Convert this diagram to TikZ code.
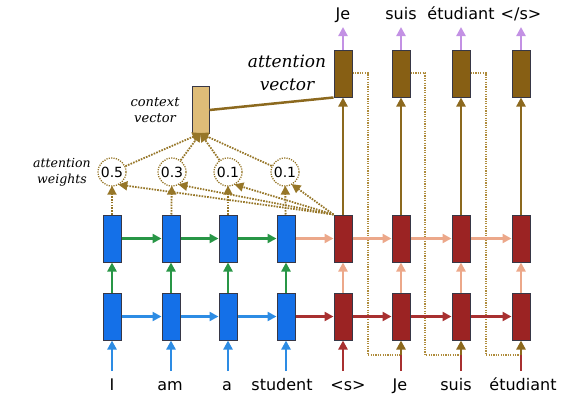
\documentclass[tikz,border=0pt]{standalone}
\usepackage{fontspec}
\setmainfont{DejaVu Sans}
\newfontfamily\labfont{DejaVu Serif}
\usetikzlibrary{arrows.meta}
\definecolor{encbox}{RGB}{20,112,232}
\definecolor{decbox}{RGB}{155,35,35}
\definecolor{attbox}{RGB}{135,95,20}
\definecolor{ctxbox}{RGB}{222,188,120}
\definecolor{bordc}{RGB}{55,55,70}
\definecolor{greenarr}{RGB}{40,150,70}
\definecolor{bluearr}{RGB}{45,140,228}
\definecolor{salmon}{RGB}{236,168,138}
\definecolor{redarr}{RGB}{168,48,48}
\definecolor{purp}{RGB}{195,145,228}
\definecolor{brownl}{RGB}{140,105,30}
\definecolor{dotc}{RGB}{150,118,40}
\definecolor{feedc}{RGB}{175,140,60}
\tikzset{
  cell/.style={draw=bordc, line width=1pt, minimum width=18pt, minimum height=47pt, inner sep=0pt},
  enc/.style={cell, fill=encbox},
  dec/.style={cell, fill=decbox},
  att/.style={cell, fill=attbox},
  ctxs/.style={cell, fill=ctxbox, minimum width=17pt},
  arr/.style={line width=2.5pt, -{Triangle[length=9pt,width=9pt]}},
  dots/.style={dotc, line width=1.8pt, dash pattern=on 1.6pt off 1.2pt},
  feed/.style={feedc, line width=1.2pt, dash pattern=on 1.2pt off 1.2pt},
  dotarr/.style={dots, -{Triangle[length=9pt,width=9pt,sep=-1pt]}},
  weight/.style={circle, draw=dotc, line width=1.3pt, dash pattern=on 1.2pt off 1.2pt, minimum size=28pt, inner sep=0pt, font=\fontsize{14}{16}\selectfont},
  word/.style={font=\fontsize{16}{19}\selectfont, anchor=base},
  itlab/.style={align=center}
}
\begin{document}
\begin{tikzpicture}[x=1pt,y=-1pt]
\useasboundingbox (0,0) rectangle (570,407);
% encoder cells
\foreach \i/\x in {1/112,2/171,3/228,4/286}{
  \node[enc] (el\i) at (\x,316.5) {};
  \node[enc] (eu\i) at (\x,238.5) {};
}
% decoder cells
\foreach \i/\x in {1/343,2/401,3/461,4/521}{
  \node[dec] (dl\i) at (\x,316.5) {};
  \node[dec] (du\i) at (\x,238.5) {};
  \node[att] (t\i) at (\x,73.5) {};
}
% context vector
\node[ctxs] (ctx) at (200.5,109.5) {};
\node[itlab, font=\labfont\itshape\fontsize{13}{16}\selectfont] (ctxlab) at (155,110) {context\\vector};
% attention vector label
\node[itlab, font=\labfont\itshape\fontsize{17}{23}\selectfont] (avlab) at (287,73) {attention\\vector};
% attention weights
\node[weight] (w1) at (112,172) {0.5};
\node[weight] (w2) at (172,172) {0.3};
\node[weight] (w3) at (228,172) {0.1};
\node[weight] (w4) at (285,172) {0.1};
\node[itlab, font=\labfont\itshape\fontsize{12.5}{16}\selectfont] (awlab) at (62,172) {attention\\weights};
% input words
\node[word] (i1) at (112,390) {I};
\node[word] (i2) at (170,390) {am};
\node[word] (i3) at (227,390) {a};
\node[word] (i4) at (282,390) {student};
\node[word] (i5) at (348,390) {<s>};
\node[word] (i6) at (400,390) {Je};
\node[word] (i7) at (456,390) {suis};
\node[word] (i8) at (523,390) {étudiant};
% output words
\node[word] (o1) at (343,19) {Je};
\node[word] (o2) at (401,19) {suis};
\node[word] (o3) at (461,19) {étudiant};
\node[word] (o4) at (521,19) {</s>};
% input arrow starts
\foreach \i/\x in {1/112,2/171,3/228,4/286,5/343,6/401,7/461,8/521}{
  \coordinate (s\i) at (\x,371);
}
\foreach \i in {1,2,3,4}{
  \draw[arr, bluearr] (s\i) -- (el\i);
  \draw[arr, greenarr] (el\i) -- (eu\i);
  \draw[arr, salmon] (dl\i) -- (du\i);
  \draw[arr, brownl] (du\i) -- (t\i);
}
\draw[arr, redarr] (s5) -- (dl1);
% feeding of previous output
\foreach \i/\j/\xx/\x in {1/2/368/401,2/3/425/461,3/4/486/521}{
  \coordinate (j\j) at (\x,355);
  \coordinate (ka\i) at (\xx,73);
  \coordinate (kb\i) at (\xx,355);
  \draw[feed] (t\i.east |- ka\i) -- (ka\i) -- (kb\i) -- (j\j);
}
\draw[redarr, line width=2.5pt] (s6) -- (j2);
\draw[redarr, line width=2.5pt] (s7) -- (j3);
\draw[redarr, line width=2.5pt] (s8) -- (j4);
\draw[arr, brownl] (j2) -- (dl2);
\draw[arr, brownl] (j3) -- (dl3);
\draw[arr, brownl] (j4) -- (dl4);
% horizontal recurrences
\draw[arr, bluearr] (el1) -- (el2);
\draw[arr, bluearr] (el2) -- (el3);
\draw[arr, bluearr] (el3) -- (el4);
\draw[arr, redarr] (el4) -- (dl1);
\draw[arr, redarr] (dl1) -- (dl2);
\draw[arr, redarr] (dl2) -- (dl3);
\draw[arr, redarr] (dl3) -- (dl4);
\draw[arr, greenarr] (eu1) -- (eu2);
\draw[arr, greenarr] (eu2) -- (eu3);
\draw[arr, greenarr] (eu3) -- (eu4);
\draw[arr, salmon] (eu4) -- (du1);
\draw[arr, salmon] (du1) -- (du2);
\draw[arr, salmon] (du2) -- (du3);
\draw[arr, salmon] (du3) -- (du4);
% output arrows
\foreach \i in {1,2,3,4}{
  \coordinate (p\i) at (t\i.north |- 0,27);
  \draw[arr, purp] (t\i) -- (p\i);
}
% attention
\foreach \i in {1,2,3,4}{
  \draw[dotarr] (eu\i) -- (w\i);
  \draw[dotarr] (du1.north west) -- (w\i.-60);
  \draw[dotarr] (w\i) -- (ctx.south);
}
\draw[brownl, line width=2.5pt] (ctx.east |- 0,110) -- (t1.south west);
\end{tikzpicture}
\end{document}
